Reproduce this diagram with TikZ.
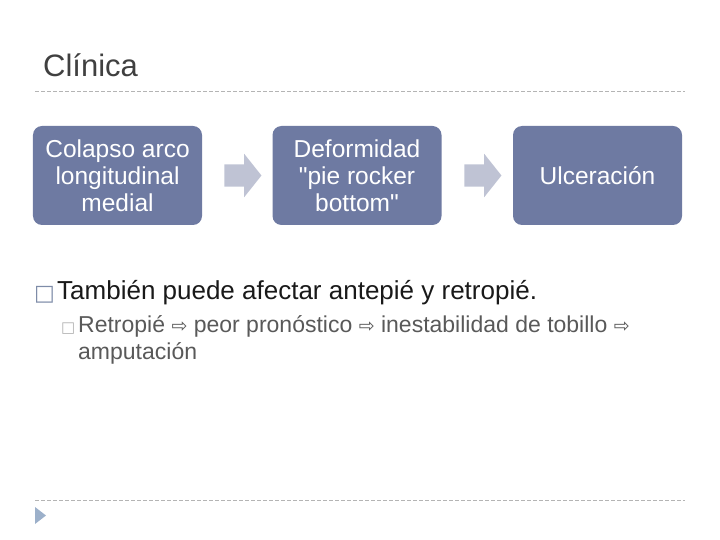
\documentclass[tikz,border=0pt]{standalone}
\usepackage{fontspec}
\setmainfont{Liberation Sans}[Ligatures=TeXOff]
\newfontfamily\symfont{DejaVu Sans}
\usetikzlibrary{shapes.arrows}

\definecolor{boxblue}{HTML}{6E7AA2}
\definecolor{arrowgrey}{HTML}{BFC3D4}
\definecolor{rulegrey}{HTML}{B4B4B4}
\definecolor{titlegrey}{HTML}{404040}
\definecolor{bulletblue}{HTML}{7E8CA8}
\definecolor{subgrey}{HTML}{595959}
\definecolor{navblue}{HTML}{9CB0CA}

\newcommand{\harrow}{{\symfont\fontsize{19bp}{19bp}\selectfont ⇨}}

\begin{document}
\begin{tikzpicture}[x=1bp, y=-1bp,
  box/.style={fill=boxblue, rounded corners=9bp, minimum width=169bp, minimum height=99bp,
    text=white, align=center, inner sep=0pt, font=\fontsize{24.5bp}{27bp}\selectfont},
  blockarrow/.style={single arrow, fill=arrowgrey, draw=none, inner xsep=0pt, inner ysep=11bp,
    minimum height=37bp, minimum width=43bp, single arrow head extend=10.5bp, single arrow tip angle=103},
  rulerline/.style={rulegrey, dash pattern=on 4bp off 2bp, line width=0.8bp}]

\useasboundingbox (0,0) rectangle (720,540);

\node [anchor=base west, text=titlegrey, font=\fontsize{31bp}{37bp}\selectfont, inner sep=0pt] (title) at (43,77) {Clínica};
\coordinate (topl) at (35,91);
\coordinate (topr) at (685,91);
\draw [rulerline] (topl) -- (topr);

\node [box] (colapso) at (117.5,175.5) {Colapso arco\\longitudinal\\medial};
\node [box] (deform) at (357,175.5) {Deformidad\\"pie rocker\\bottom"};
\node [box] (ulcera) at (597.5,175.5) {Ulceración};

\node [blockarrow] (arr1) at (238.5,175.5) {};
\node [blockarrow] (arr2) at (478.5,175.5) {};

\node [anchor=base west, inner sep=0pt, text=bulletblue, font=\symfont\fontsize{22bp}{22bp}\selectfont] (bul1) at (34,300) {□};
\node [anchor=base west, inner sep=0pt, text=black!90, font=\fontsize{26bp}{30bp}\selectfont] (tambien) at (57,299) {También puede afectar antepié y retropié.};

\node [anchor=base west, inner sep=0pt, text=gray!60, font=\symfont\fontsize{15bp}{15bp}\selectfont] (bul2) at (61,332) {□};
\node [anchor=base west, inner sep=0pt, text=subgrey, align=left, font=\fontsize{23bp}{27bp}\selectfont] (retro) at (78,359)
  {Retropié \harrow{} peor pronóstico \harrow{} inestabilidad de tobillo \harrow\\amputación};

\coordinate (botl) at (35,500);
\coordinate (botr) at (685,500);
\draw [rulerline] (botl) -- (botr);
\path [fill=navblue] (35,507) -- (46,515.5) -- (35,524) -- cycle;

\end{tikzpicture}
\end{document}
